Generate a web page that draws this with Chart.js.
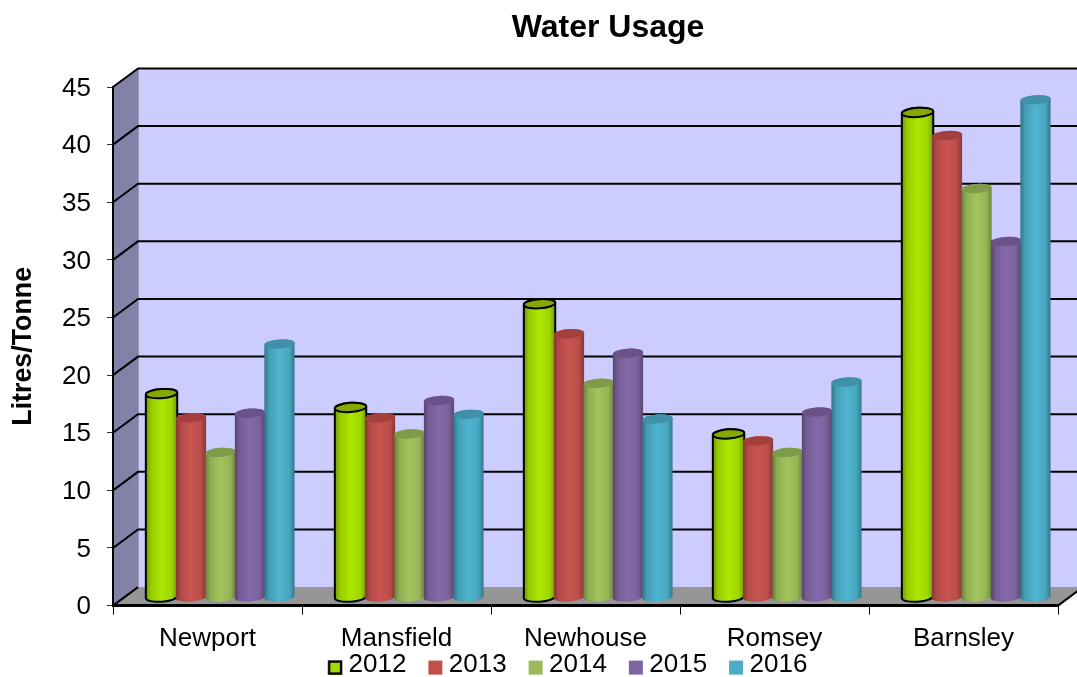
<!DOCTYPE html>
<html>
<head>
<meta charset="utf-8">
<title>Water Usage</title>
<script src="https://cdn.jsdelivr.net/npm/chart.js@4"></script>
<style>
html,body{margin:0;padding:0;background:#fff;overflow:hidden}
canvas{display:block}
</style>
</head>
<body>
<canvas id="chart" width="1077" height="677"></canvas>
<script>
const categories = ['Newport', 'Mansfield', 'Newhouse', 'Romsey', 'Barnsley'];
const years = ['2012', '2013', '2014', '2015', '2016'];
const values2012 = [17.7, 16.5, 25.5, 14.2, 42.1];
const values2013 = [15.6, 15.6, 22.9, 13.6, 40.1];
const values2014 = [12.6, 14.2, 18.6, 12.6, 35.5];
const values2015 = [16.0, 17.1, 21.2, 16.1, 30.9];
const values2016 = [22.0, 15.9, 15.5, 18.7, 43.2];
const seriesValues = [values2012, values2013, values2014, values2015, values2016];
const seriesColors = ['#a4dc00', '#c0504d', '#9bbb59', '#8064a2', '#4bacc6'];
const capColors = ['#86a800', '#a43f3e', '#7f9a48', '#6b5289', '#3f90a8'];
const outlinedSeries = [true, false, false, false, false];
const yTicks = { min: 0, max: 45, step: 5 };

// Pseudo-3D box: how far the back wall sits behind the front plane.
const DEPTH_X = 25, DEPTH_Y = -18.5;
// Columns stand half-way into the box.
const COL_X = 13, COL_Y = -8;
const ELLIPSE_RY = 4.6, ELLIPSE_TILT = -0.07;

function shade(hex, f) {
  const n = parseInt(hex.slice(1), 16);
  const ch = s => Math.max(0, Math.min(255, Math.round(((n >> s) & 255) * f)));
  return `rgb(${ch(16)},${ch(8)},${ch(0)})`;
}

function legendSwatch(i) {
  const c = document.createElement('canvas');
  c.width = 16; c.height = 22;
  const g = c.getContext('2d');
  g.fillStyle = seriesColors[i];
  g.fillRect(1, 6.6, 14, 14);
  if (outlinedSeries[i]) {
    g.strokeStyle = '#000';
    g.lineWidth = 2.4;
    g.strokeRect(2, 7.6, 12, 12);
  }
  return c;
}

function drawCylinder(ctx, bar, i) {
  const cx = bar.x + COL_X;
  const rx = bar.width / 2 + (outlinedSeries[i] ? 1 : 0.4);
  const top = bar.y + COL_Y;
  const bottom = bar.base + COL_Y;
  const base = seriesColors[i];
  const g = ctx.createLinearGradient(cx - rx, 0, cx + rx, 0);
  g.addColorStop(0, shade(base, 0.68));
  g.addColorStop(0.16, shade(base, 0.92));
  g.addColorStop(0.5, shade(base, 1.05));
  g.addColorStop(0.82, shade(base, 0.97));
  g.addColorStop(1, shade(base, 0.7));

  ctx.save();
  ctx.beginPath();
  ctx.ellipse(cx, bottom, rx, ELLIPSE_RY, ELLIPSE_TILT, 0, Math.PI);
  ctx.ellipse(cx, top, rx, ELLIPSE_RY, ELLIPSE_TILT, Math.PI, 0);
  ctx.closePath();
  ctx.fillStyle = g;
  ctx.fill();
  if (outlinedSeries[i]) {
    ctx.strokeStyle = '#000';
    ctx.lineWidth = 2;
    ctx.stroke();
  }
  ctx.beginPath();
  ctx.ellipse(cx, top, rx, ELLIPSE_RY, ELLIPSE_TILT, 0, Math.PI * 2);
  ctx.fillStyle = capColors[i];
  ctx.fill();
  if (outlinedSeries[i]) ctx.stroke();
  ctx.restore();
}

const boxPlugin = {
  id: 'box3d',
  // Side wall, back wall, floor and gridlines behind the columns.
  beforeDraw(chart) {
    const { ctx, chartArea: a, scales: { y } } = chart;
    const poly = (pts, fill) => {
      ctx.beginPath();
      pts.forEach((p, k) => k ? ctx.lineTo(p[0], p[1]) : ctx.moveTo(p[0], p[1]));
      ctx.closePath();
      ctx.fillStyle = fill;
      ctx.fill();
    };
    const dx = DEPTH_X, dy = DEPTH_Y;
    poly([[a.left + dx, a.top + dy], [a.right + dx, a.top + dy], [a.right + dx, a.bottom + dy], [a.left + dx, a.bottom + dy]], '#ccccff');
    poly([[a.left, a.top], [a.left + dx, a.top + dy], [a.left + dx, a.bottom + dy], [a.left, a.bottom]], '#8282a8');
    poly([[a.left, a.bottom], [a.left + dx, a.bottom + dy], [a.right + dx, a.bottom + dy], [a.right, a.bottom]], '#969696');

    ctx.save();
    ctx.strokeStyle = '#9a9ab0';
    ctx.lineWidth = 1;
    ctx.beginPath();
    ctx.moveTo(a.left + dx + 0.5, a.top + dy);
    ctx.lineTo(a.left + dx + 0.5, a.bottom + dy);
    ctx.stroke();

    ctx.strokeStyle = '#000';
    ctx.lineWidth = 2;
    y.ticks.forEach(t => {
      const py = y.getPixelForValue(t.value);
      ctx.beginPath();
      ctx.moveTo(a.left, py);
      ctx.lineTo(a.left + dx, py + dy);
      if (t.value !== yTicks.min) ctx.lineTo(a.right + dx, py + dy);
      ctx.stroke();
    });
    ctx.beginPath();
    ctx.moveTo(a.right, a.bottom);
    ctx.lineTo(a.right + dx, a.bottom + dy);
    ctx.stroke();
    ctx.restore();
  },
  // Cancel the flat bars; the columns are painted left to right afterwards.
  beforeDatasetDraw() { return false; },
  afterDatasetsDraw(chart) {
    categories.forEach((_, c) => {
      seriesValues.forEach((_, i) => {
        drawCylinder(chart.ctx, chart.getDatasetMeta(i).data[c], i);
      });
    });
  },
  afterLayout(chart) {
    // Title and legend sit off the canvas centre line.
    chart.titleBlock.left += 79;
    chart.titleBlock.right += 79;
    chart.legend.left += 42;
    chart.legend.right += 42;
    chart.legend.top = 623.6;
    chart.legend.bottom = 677;
  }
};

const fontFamily = '"Liberation Sans", Arial, sans-serif';

new Chart(document.getElementById('chart'), {
  type: 'bar',
  data: {
    labels: categories,
    datasets: seriesValues.map((v, i) => ({
      label: years[i],
      data: v,
      backgroundColor: seriesColors[i]
    }))
  },
  plugins: [boxPlugin],
  options: {
    responsive: false,
    animation: false,
    layout: { padding: { left: 0, right: 19, top: 0, bottom: -43 } },
    datasets: { bar: { categoryPercentage: 0.78, barPercentage: 1 } },
    plugins: {
      tooltip: { enabled: false },
      title: {
        display: true,
        text: 'Water Usage',
        color: '#000',
        font: { family: fontFamily, size: 32, weight: 'bold' },
        padding: { top: 8.8, bottom: 39.8 }
      },
      legend: {
        position: 'bottom',
        labels: {
          color: '#000',
          font: { family: fontFamily, size: 26 },
          padding: 28.4,
          usePointStyle: true,
          pointStyleWidth: 1,
          generateLabels: () => years.map((y, i) => ({
            text: y,
            datasetIndex: i,
            pointStyle: legendSwatch(i),
            fontColor: '#000',
            lineWidth: 0
          }))
        }
      }
    },
    scales: {
      x: {
        afterFit(s) { s.height = 50; },
        border: { color: '#000', width: 3 },
        grid: { drawOnChartArea: false, tickLength: 9, color: '#000', tickWidth: 1 },
        ticks: { color: '#000', font: { family: fontFamily, size: 26 }, padding: 9, maxRotation: 0 }
      },
      y: {
        min: yTicks.min,
        max: yTicks.max,
        afterFit(s) { s.width = 113; },
        border: { color: '#000', width: 2 },
        grid: { drawOnChartArea: false, tickLength: 6, color: '#333', tickWidth: 1 },
        ticks: {
          stepSize: yTicks.step,
          color: '#000',
          font: { family: fontFamily, size: 26 },
          padding: 16,
          labelOffset: 1.5
        },
        title: {
          display: true,
          text: 'Litres/Tonne',
          color: '#000',
          font: { family: fontFamily, size: 26.8, weight: 'bold' },
          padding: { top: 8, bottom: 0 }
        }
      }
    }
  }
});
</script>
</body>
</html>
